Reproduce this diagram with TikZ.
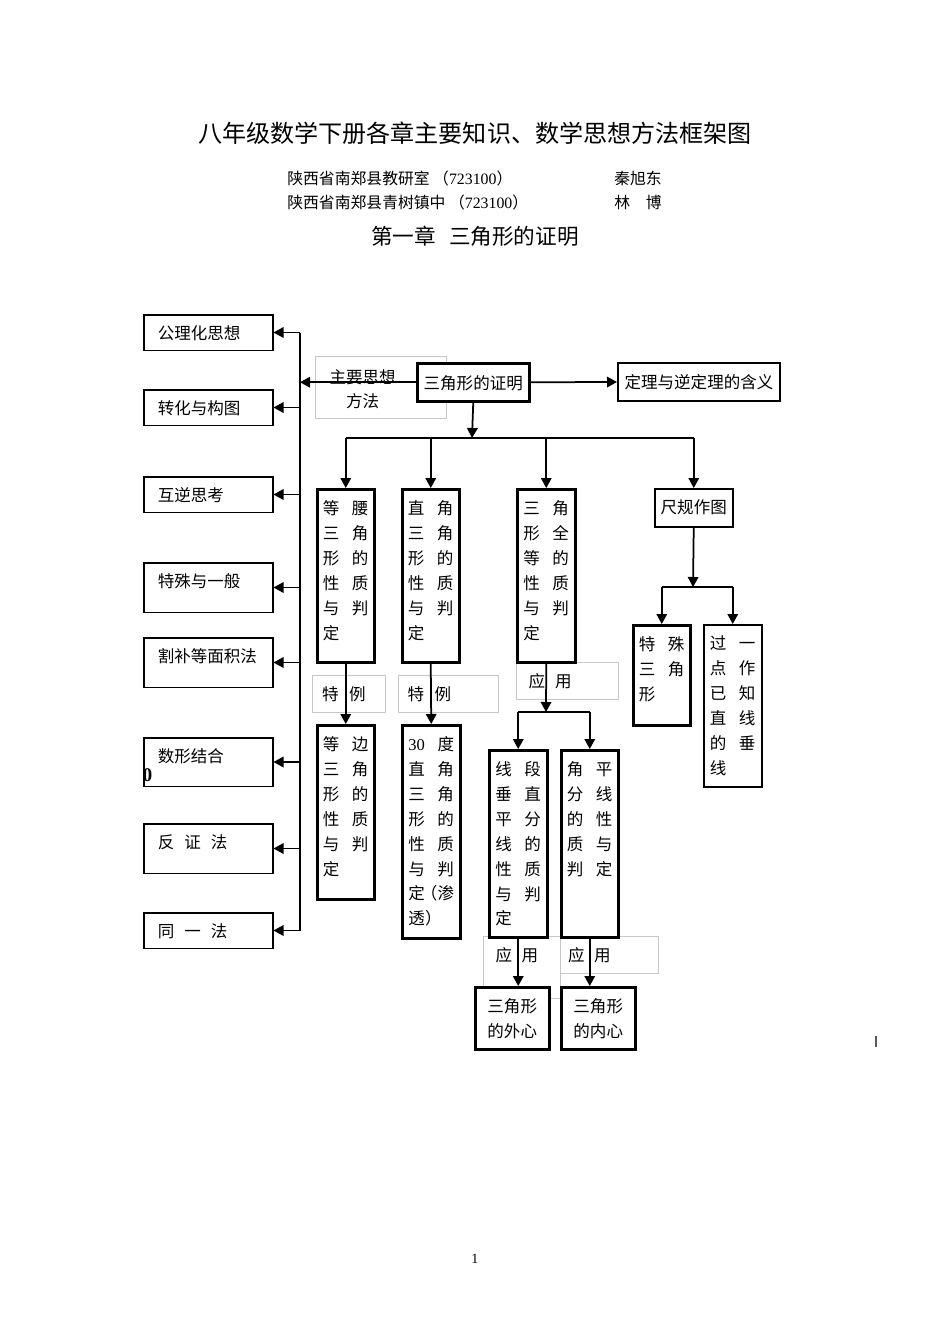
\documentclass[tikz,border=0pt]{standalone}
\usepackage{fontspec}
\setmainfont{Noto Sans CJK SC}
\newfontfamily\latinfont{Liberation Serif}
\usepackage{tikz}
\usetikzlibrary{arrows.meta}

\newcommand{\boxfont}{\fontsize{9.4pt}{14.2pt}\selectfont}
\newcommand{\colpair}[1]{%
  \begin{tabular}[t]{@{}l@{\hspace{2.5mm}}l@{}}#1\end{tabular}}
\newcommand{\twolines}[1]{%
  \begin{tabular}[t]{@{}c@{}}#1\end{tabular}}

\begin{document}
\begin{tikzpicture}[
  x=0.2mm,
  y=-0.2mm,
  >={Triangle[length=2mm,width=2.1mm]},
  heading/.style={
    inner sep=0pt,
    font=\fontsize{9pt}{11pt}\selectfont
  },
  cell/.style={
    draw,
    line width=0.3mm,
    fill=white,
    anchor=north west,
    inner sep=0pt,
    text height=5mm,
    font=\boxfont
  },
  heavy/.style={
    cell,
    line width=0.5mm
  },
  method/.style={
    cell,
    text width=20.2mm,
    inner xsep=2.8mm,
    align=left
  },
  note/.style={
    cell,
    draw=black!22,
    line width=0.2mm,
    text height=4.9mm,
    text depth=2.5mm,
    align=left
  },
  link/.style={
    line width=0.35mm
  },
  arrow/.style={
    link,
    ->
  }
]

% page
\fill[white] (0,0) rectangle (950,1344);
\useasboundingbox (0,0) rectangle (950,1344);

% Headings
\node[font=\fontsize{13.7pt}{16pt}\selectfont] (title) at (475,133)
  {八年级数学下册各章主要知识、数学思想方法框架图};
\node[heading, anchor=west] (office) at (287,178)
  {陕西省南郑县教研室 （{\latinfont 723100}）};
\node[heading, anchor=west] (qin) at (614,178) {秦旭东};
\node[heading, anchor=west] (school) at (287,202)
  {陕西省南郑县青树镇中 （{\latinfont 723100}）};
\node[heading, anchor=west] (lin) at (614,202) {林　博};
\node[font=\fontsize{12.3pt}{14pt}\selectfont] (chapter) at (475,236)
  {第一章\hspace{0.6em}三角形的证明};

% Grey labels on the connectors
\node[note, text width=26.2mm, text height=5.3mm, text depth=7.1mm] (ideas) at (315,356)
  {\hspace*{2.8mm}主要思想\\\hspace*{6.1mm}方法};
\node[note, text width=14.6mm] (exampleA) at (312,675)
  {\hspace*{1.9mm}特\hspace{2.1mm}例};
\node[note, text width=20mm] (exampleB) at (398,675)
  {\hspace*{1.8mm}特\hspace{2.1mm}例};
\node[note, text width=20.4mm] (applyC) at (516,662)
  {\hspace*{2.4mm}应\hspace{2mm}用};
\node[note, text width=15.4mm, text height=5mm, text depth=7.4mm] (applyL) at (483,936)
  {\hspace*{2.4mm}应\hspace{1.9mm}用};
\node[note, text width=19.6mm] (applyR) at (560,936)
  {\hspace*{1.5mm}应\hspace{1.9mm}用};

% Methods column
\node[method, text depth=2.1mm] (gongli) at (143,314) {公理化思想};
\node[method, text depth=2.1mm] (zhuanhua) at (143,389) {转化与构图};
\node[method, text depth=2.1mm] (huni) at (143,476) {互逆思考};
\node[method, text depth=4.9mm] (teshu) at (143,562) {特殊与一般};
\node[method, text depth=4.9mm] (gebu) at (143,637) {割补等面积法};
\node[method, text depth=4.7mm] (shuxing) at (143,737) {数形结合};
\node[font=\fontsize{11pt}{12pt}\latinfont\bfseries, inner sep=0pt] (zero) at (147.5,775) {0};
\node[method, text depth=4.9mm] (fanzheng) at (143,823) {反\hspace{2mm}证\hspace{2mm}法};
\node[method, text depth=2.1mm] (tongyi) at (143,912) {同\hspace{2mm}一\hspace{2mm}法};

% Main chain
\node[heavy, minimum width=22.4mm, text height=5.3mm, text depth=2.3mm] (proof) at (416,362)
  {三角形的证明};
\node[cell, line width=0.4mm, minimum width=32.4mm, text depth=2.6mm] (converse) at (617,362)
  {定理与逆定理的含义};

\node[heavy, minimum width=11.4mm, text depth=29.6mm] (isosceles) at (316,488)
  {\colpair{等&腰\\三&角\\形&的\\性&质\\与&判\\定}};
\node[heavy, minimum width=11.4mm, text depth=29.6mm] (rightangle) at (401,488)
  {\colpair{直&角\\三&角\\形&的\\性&质\\与&判\\定}};
\node[heavy, minimum width=11.6mm, text depth=29.6mm] (congruent) at (516,488)
  {\colpair{三&角\\形&全\\等&的\\性&质\\与&判\\定}};
\node[cell, minimum width=15.6mm, text depth=2.6mm] (ruler) at (654,488) {尺规作图};

\node[heavy, minimum width=11.4mm, text depth=15mm] (special) at (632,624)
  {\colpair{特&殊\\三&角\\形}};
\node[cell, minimum width=11.6mm, text depth=27.4mm] (perpendicular) at (703,624)
  {\colpair{过&一\\点&作\\已&知\\直&线\\的&垂\\线}};

\node[heavy, minimum width=11.4mm, text depth=29.8mm] (equilateral) at (316,724)
  {\colpair{等&边\\三&角\\形&的\\性&质\\与&判\\定}};
\node[heavy, minimum width=11.6mm, text depth=37.6mm] (thirty) at (401,724)
  {\colpair{{\latinfont 30}&度\\直&角\\三&角\\形&的\\性&质\\与&判\\定&\llap{（}渗\\透\rlap{）}}};
\node[heavy, minimum width=11.6mm, text depth=32.4mm] (bisector) at (488,749)
  {\colpair{线&段\\垂&直\\平&分\\线&的\\性&质\\与&判\\定}};
\node[heavy, minimum width=11.4mm, text depth=32.4mm] (anglebis) at (560,749)
  {\colpair{角&平\\分&线\\的&性\\质&与\\判&定}};

\node[heavy, minimum width=14.8mm, text depth=7.4mm] (circum) at (474,986)
  {\twolines{三角形\\的外心}};
\node[heavy, minimum width=14.8mm, text depth=7.4mm] (incenter) at (560,986)
  {\twolines{三角形\\的内心}};

% Spine towards the methods
\coordinate (spine) at (300,338);
\draw[arrow] (proof.west) -- (proof.west -| spine);
\draw[link] (gongli.east -| spine) -- (tongyi.east -| spine);
\draw[arrow] (gongli.east -| spine) -- (gongli.east);
\draw[arrow] (zhuanhua.east -| spine) -- (zhuanhua.east);
\draw[arrow] (huni.east -| spine) -- (huni.east);
\draw[arrow] (teshu.east -| spine) -- (teshu.east);
\draw[arrow] (gebu.east -| spine) -- (gebu.east);
\draw[arrow] (shuxing.east -| spine) -- (shuxing.east);
\draw[arrow] (fanzheng.east -| spine) -- (fanzheng.east);
\draw[arrow] (tongyi.east -| spine) -- (tongyi.east);

\draw[arrow] (proof.east) -- (converse.west);

% First branching
\coordinate (fork) at (472,438);
\draw[arrow] (proof.south) -- (fork);
\draw[link] (isosceles.north |- fork) -- (ruler.north |- fork);
\draw[arrow] (isosceles.north |- fork) -- (isosceles.north);
\draw[arrow] (rightangle.north |- fork) -- (rightangle.north);
\draw[arrow] (congruent.north |- fork) -- (congruent.north);
\draw[arrow] (ruler.north |- fork) -- (ruler.north);

% Constructions
\coordinate (rfork) at (693,587);
\draw[arrow] (ruler.south) -- (rfork);
\draw[link] (special.north |- rfork) -- (perpendicular.north |- rfork);
\draw[arrow] (special.north |- rfork) -- (special.north);
\draw[arrow] (perpendicular.north |- rfork) -- (perpendicular.north);

% Special cases
\draw[arrow] (isosceles.south) -- (equilateral.north);
\draw[arrow] (rightangle.south) -- (thirty.north);

% Applications of congruence
\coordinate (cfork) at (546,712);
\draw[arrow] (congruent.south) -- (cfork);
\draw[link] (bisector.north |- cfork) -- (anglebis.north |- cfork);
\draw[arrow] (bisector.north |- cfork) -- (bisector.north);
\draw[arrow] (anglebis.north |- cfork) -- (anglebis.north);
\draw[arrow] (bisector.south) -- (bisector.south |- circum.north);
\draw[arrow] (anglebis.south) -- (anglebis.south |- incenter.north);

% stray mark and page number
\draw[line width=0.4mm, black!65] (876,1036) -- (876,1047);
\node[font=\fontsize{8pt}{9pt}\latinfont] (pageno) at (475,1259) {1};

\end{tikzpicture}
\end{document}
